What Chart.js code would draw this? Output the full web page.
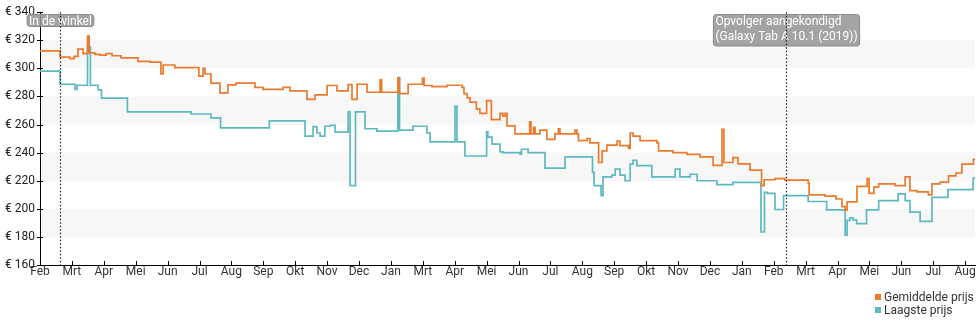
<!DOCTYPE html>
<html lang="nl">
<head>
<meta charset="utf-8">
<title>Prijsverloop</title>
<script src="https://cdn.jsdelivr.net/npm/chart.js@4.4.1/dist/chart.umd.min.js"></script>
<style>
  body { margin: 0; background: #fff; font-family: Roboto, sans-serif; }
  #wrap { position: relative; width: 980px; height: 325px; }
  #legenda { position: absolute; left: 875px; top: 291px; font-size: 12px; color: #333; line-height: 13px; }
  #legenda span { display: inline-block; width: 6px; height: 6px; margin-right: 3px; vertical-align: 1px; }
</style>
</head>
<body>
<div id="wrap">
  <canvas id="grafiek"></canvas>
  <div id="legenda">
    <div><span style="background:#ec7a2c"></span>Gemiddelde prijs</div>
    <div><span style="background:#5cb9c2"></span>Laagste prijs</div>
  </div>
</div>
<script>
// maanden op de x-as (index = maand sinds start)
const maanden = ['Feb', 'Mrt', 'Apr', 'Mei', 'Jun', 'Jul', 'Aug', 'Sep', 'Okt', 'Nov', 'Dec', 'Jan',
  'Mrt', 'Apr', 'Mei', 'Jun', 'Jul', 'Aug', 'Sep', 'Okt', 'Nov', 'Dec', 'Jan',
  'Feb', 'Mrt', 'Apr', 'Mei', 'Jun', 'Jul', 'Aug'];
const eindMaand = 29.31;

// gemiddelde prijs: [maand, euro]
const gemiddeld = [
  [0, 312.5], [0.63, 308], [0.94, 307], [1.07, 308.5], [1.19, 313.7], [1.35, 310.5], [1.49, 323],
  [1.54, 311], [1.72, 310], [1.88, 309.5], [2.07, 310.5], [2.26, 309], [2.54, 307.5], [3.07, 305],
  [3.45, 304.5], [3.79, 296], [3.86, 302.4], [4.23, 300.5], [4.98, 294.5], [5.11, 300], [5.17, 296],
  [5.36, 289.5], [5.64, 282.5], [5.89, 288.2], [6.14, 289.5], [6.74, 286.5], [6.99, 285],
  [7.62, 286.5], [7.84, 284], [8.37, 278], [8.62, 281.2], [9.00, 287.8], [9.31, 284], [9.66, 288.5],
  [9.78, 278], [9.94, 288.7], [10.25, 283], [10.66, 291.9], [10.71, 283], [11.22, 293], [11.27, 282],
  [11.54, 288.7], [11.99, 293], [12.04, 287.8], [12.29, 287], [12.76, 288], [13.23, 286.5],
  [13.29, 282], [13.39, 279], [13.48, 276], [13.68, 271], [13.79, 268], [14.00, 277], [14.15, 263.5],
  [14.42, 268], [14.51, 266], [14.58, 268], [14.64, 259], [14.89, 253.4], [15.35, 262], [15.39, 253.4],
  [15.47, 258], [15.52, 253.4], [15.67, 256], [15.89, 249.5], [16.14, 253.4], [16.25, 257],
  [16.30, 253.4], [16.77, 256], [16.83, 253.4], [16.88, 248.5], [17.15, 250], [17.24, 247],
  [17.51, 233], [17.62, 241.2], [17.77, 245.3], [18.09, 248.2], [18.18, 245], [18.45, 243],
  [18.50, 254], [18.59, 251.7], [18.81, 248.5], [19.34, 247], [19.39, 241.2], [19.84, 240],
  [20.28, 238.8], [20.69, 237], [21.10, 231], [21.38, 256.5], [21.44, 233], [21.72, 236.5],
  [21.88, 232], [22.26, 227.5], [22.62, 216.5], [22.70, 220.7], [23.04, 221.5], [23.35, 220.5],
  [24.08, 218.5], [24.11, 210], [24.61, 209], [24.95, 207], [25.14, 201.5], [25.24, 199],
  [25.30, 205], [25.61, 216], [25.93, 221.5], [25.99, 211], [26.14, 215.5], [26.29, 217.7],
  [26.80, 216.5], [27.12, 222.8], [27.27, 213], [27.49, 212], [27.85, 210], [27.96, 217.7],
  [28.21, 219], [28.48, 223.5], [28.71, 225.5], [28.90, 231.8], [29.26, 235.3], [29.31, 235.3]
];

// laagste prijs: [maand, euro]
const laagste = [
  [0, 298], [0.63, 288.7], [1.10, 285], [1.16, 288], [1.49, 315.3], [1.58, 288], [1.82, 284.7],
  [1.93, 278.8], [2.74, 269], [4.73, 267.5], [5.36, 264.7], [5.66, 257.6], [7.19, 262.6],
  [8.31, 251.8], [8.56, 258.5], [8.68, 254], [8.78, 251.8], [8.93, 258.8], [9.09, 259.5],
  [9.25, 254.6], [9.66, 269], [9.72, 216.5], [9.89, 269], [10.19, 257], [10.56, 255.3],
  [11.22, 293.4], [11.27, 256], [11.69, 258.8], [12.13, 254], [12.23, 247.7], [13.01, 272.9],
  [13.07, 247.7], [13.32, 237.6], [14.00, 254.8], [14.04, 251], [14.17, 246], [14.42, 240.5],
  [14.51, 240], [15.05, 239], [15.09, 242.4], [15.30, 240], [15.83, 229], [16.46, 237],
  [17.32, 226], [17.37, 216.5], [17.59, 209.4], [17.65, 222.8], [17.93, 224], [18.03, 228.2],
  [18.18, 224], [18.34, 220], [18.50, 231.8], [18.59, 234.6], [18.71, 230.8], [19.18, 222.8],
  [19.91, 228.2], [20.06, 222.8], [20.38, 224.6], [20.60, 220], [21.22, 217.2], [21.72, 218.8],
  [22.60, 183.5], [22.71, 211.8], [22.79, 211], [23.04, 199.5], [23.31, 209.4], [24.08, 205.2],
  [24.66, 199.3], [25.24, 181.2], [25.30, 191.8], [25.39, 193.5], [25.49, 192], [25.60, 189.4],
  [25.91, 199.3], [26.29, 205.9], [26.90, 210.6], [27.12, 205.9], [27.27, 197.6], [27.59, 191],
  [27.96, 208.2], [28.46, 213.6], [29.25, 221.9], [29.31, 221.9]
];

// grijze banden achter de lijnen (euro van-tot)
const banden = [[180, 200], [220, 240], [260, 280], [300, 320]];

// gebeurtenissen met verticale stippellijn
const momenten = [
  { maand: 0.62, tekst: ['In de winkel'] },
  { maand: 23.38, tekst: ['Opvolger aangekondigd', '(Galaxy Tab A 10.1 (2019))'] }
];

const achtergrond = {
  id: 'achtergrond',
  beforeDatasetsDraw(chart) {
    const { ctx, chartArea: a, scales: { y } } = chart;
    ctx.save();
    ctx.fillStyle = '#f7f7f7';
    banden.forEach(([van, tot]) => {
      const y1 = y.getPixelForValue(tot);
      const y2 = y.getPixelForValue(van);
      ctx.fillRect(a.left + 1, y1, a.right - a.left - 1, y2 - y1);
    });
    ctx.restore();
  }
};

// streepjes die door de assen heen lopen
const streepjes = {
  id: 'streepjes',
  afterDraw(chart) {
    const { ctx, chartArea: a, scales: { x, y } } = chart;
    ctx.save();
    ctx.strokeStyle = '#000';
    ctx.lineWidth = 1;
    ctx.beginPath();
    y.ticks.forEach(t => {
      const py = Math.round(y.getPixelForValue(t.value)) + 0.5;
      ctx.moveTo(a.left - 3, py);
      ctx.lineTo(a.left + 3, py);
    });
    x.ticks.forEach(t => {
      const px = Math.round(x.getPixelForValue(t.value)) + 0.5;
      ctx.moveTo(px, a.bottom - 4);
      ctx.lineTo(px, a.bottom + 1);
    });
    ctx.stroke();
    ctx.restore();
  }
};

const markeringen = {
  id: 'markeringen',
  afterDatasetsDraw(chart) {
    const { ctx, chartArea: a, scales: { x } } = chart;
    ctx.save();
    ctx.font = '12px Roboto';
    momenten.forEach(m => {
      const px = Math.round(x.getPixelForValue(m.maand)) + 0.5;
      const breedte = Math.max(...m.tekst.map(t => ctx.measureText(t).width)) + 4;
      const hoogte = m.tekst.length === 1 ? 12 : 31.5;
      const links = px - breedte / 2;
      const boven = 14.5;
      ctx.fillStyle = 'rgba(150,150,150,0.88)';
      ctx.strokeStyle = '#8a8a8a';
      ctx.beginPath();
      ctx.roundRect(links, boven, breedte, hoogte, 3);
      ctx.fill();
      ctx.stroke();
      ctx.fillStyle = '#fff';
      ctx.textBaseline = 'alphabetic';
      m.tekst.forEach((t, i) => ctx.fillText(t, links + 2, boven + 10.5 + i * 14.5));
      ctx.strokeStyle = '#222';
      ctx.lineWidth = 1.2;
      ctx.setLineDash([1.5, 2]);
      ctx.beginPath();
      ctx.moveTo(px, a.top);
      ctx.lineTo(px, a.bottom);
      ctx.stroke();
      ctx.setLineDash([]);
      ctx.lineWidth = 1;
    });
    ctx.restore();
  }
};

Chart.defaults.font.family = 'Roboto';
Chart.defaults.font.size = 12;
Chart.defaults.color = '#222';

const punten = lijst => lijst.map(([m, p]) => ({ x: m, y: p }));

new Chart(document.getElementById('grafiek'), {
  type: 'line',
  data: {
    datasets: [
      {
        label: 'Gemiddelde prijs',
        data: punten(gemiddeld),
        borderColor: '#ec7a2c',
        borderWidth: 1.7,
        stepped: true,
        pointRadius: 0,
        fill: false
      },
      {
        label: 'Laagste prijs',
        data: punten(laagste),
        borderColor: '#5cb9c2',
        borderWidth: 1.7,
        stepped: true,
        pointRadius: 0,
        fill: false
      }
    ]
  },
  options: {
    responsive: true,
    maintainAspectRatio: false,
    animation: false,
    layout: { autoPadding: false, padding: { top: 10, right: 5, left: 0, bottom: 40 } },
    plugins: { legend: { display: false }, tooltip: { enabled: false } },
    scales: {
      x: {
        type: 'linear',
        min: 0,
        max: eindMaand,
        grid: { display: false, drawTicks: false },
        border: { display: true, color: '#000', width: 1 },
        ticks: {
          stepSize: 1,
          includeBounds: false,
          autoSkip: false,
          maxRotation: 0,
          padding: 0,
          color: '#333',
          callback: v => maanden[v] ?? ''
        },
        afterFit: s => { s.height = 20; }
      },
      y: {
        min: 160,
        max: 340,
        grid: { display: false, drawTicks: false },
        border: { display: true, color: '#000', width: 1 },
        ticks: {
          stepSize: 20,
          padding: 5,
          color: '#222',
          callback: v => '€ ' + v
        },
        afterFit: s => { s.width = 40; }
      }
    }
  },
  plugins: [achtergrond, markeringen, streepjes]
});
</script>
</body>
</html>
